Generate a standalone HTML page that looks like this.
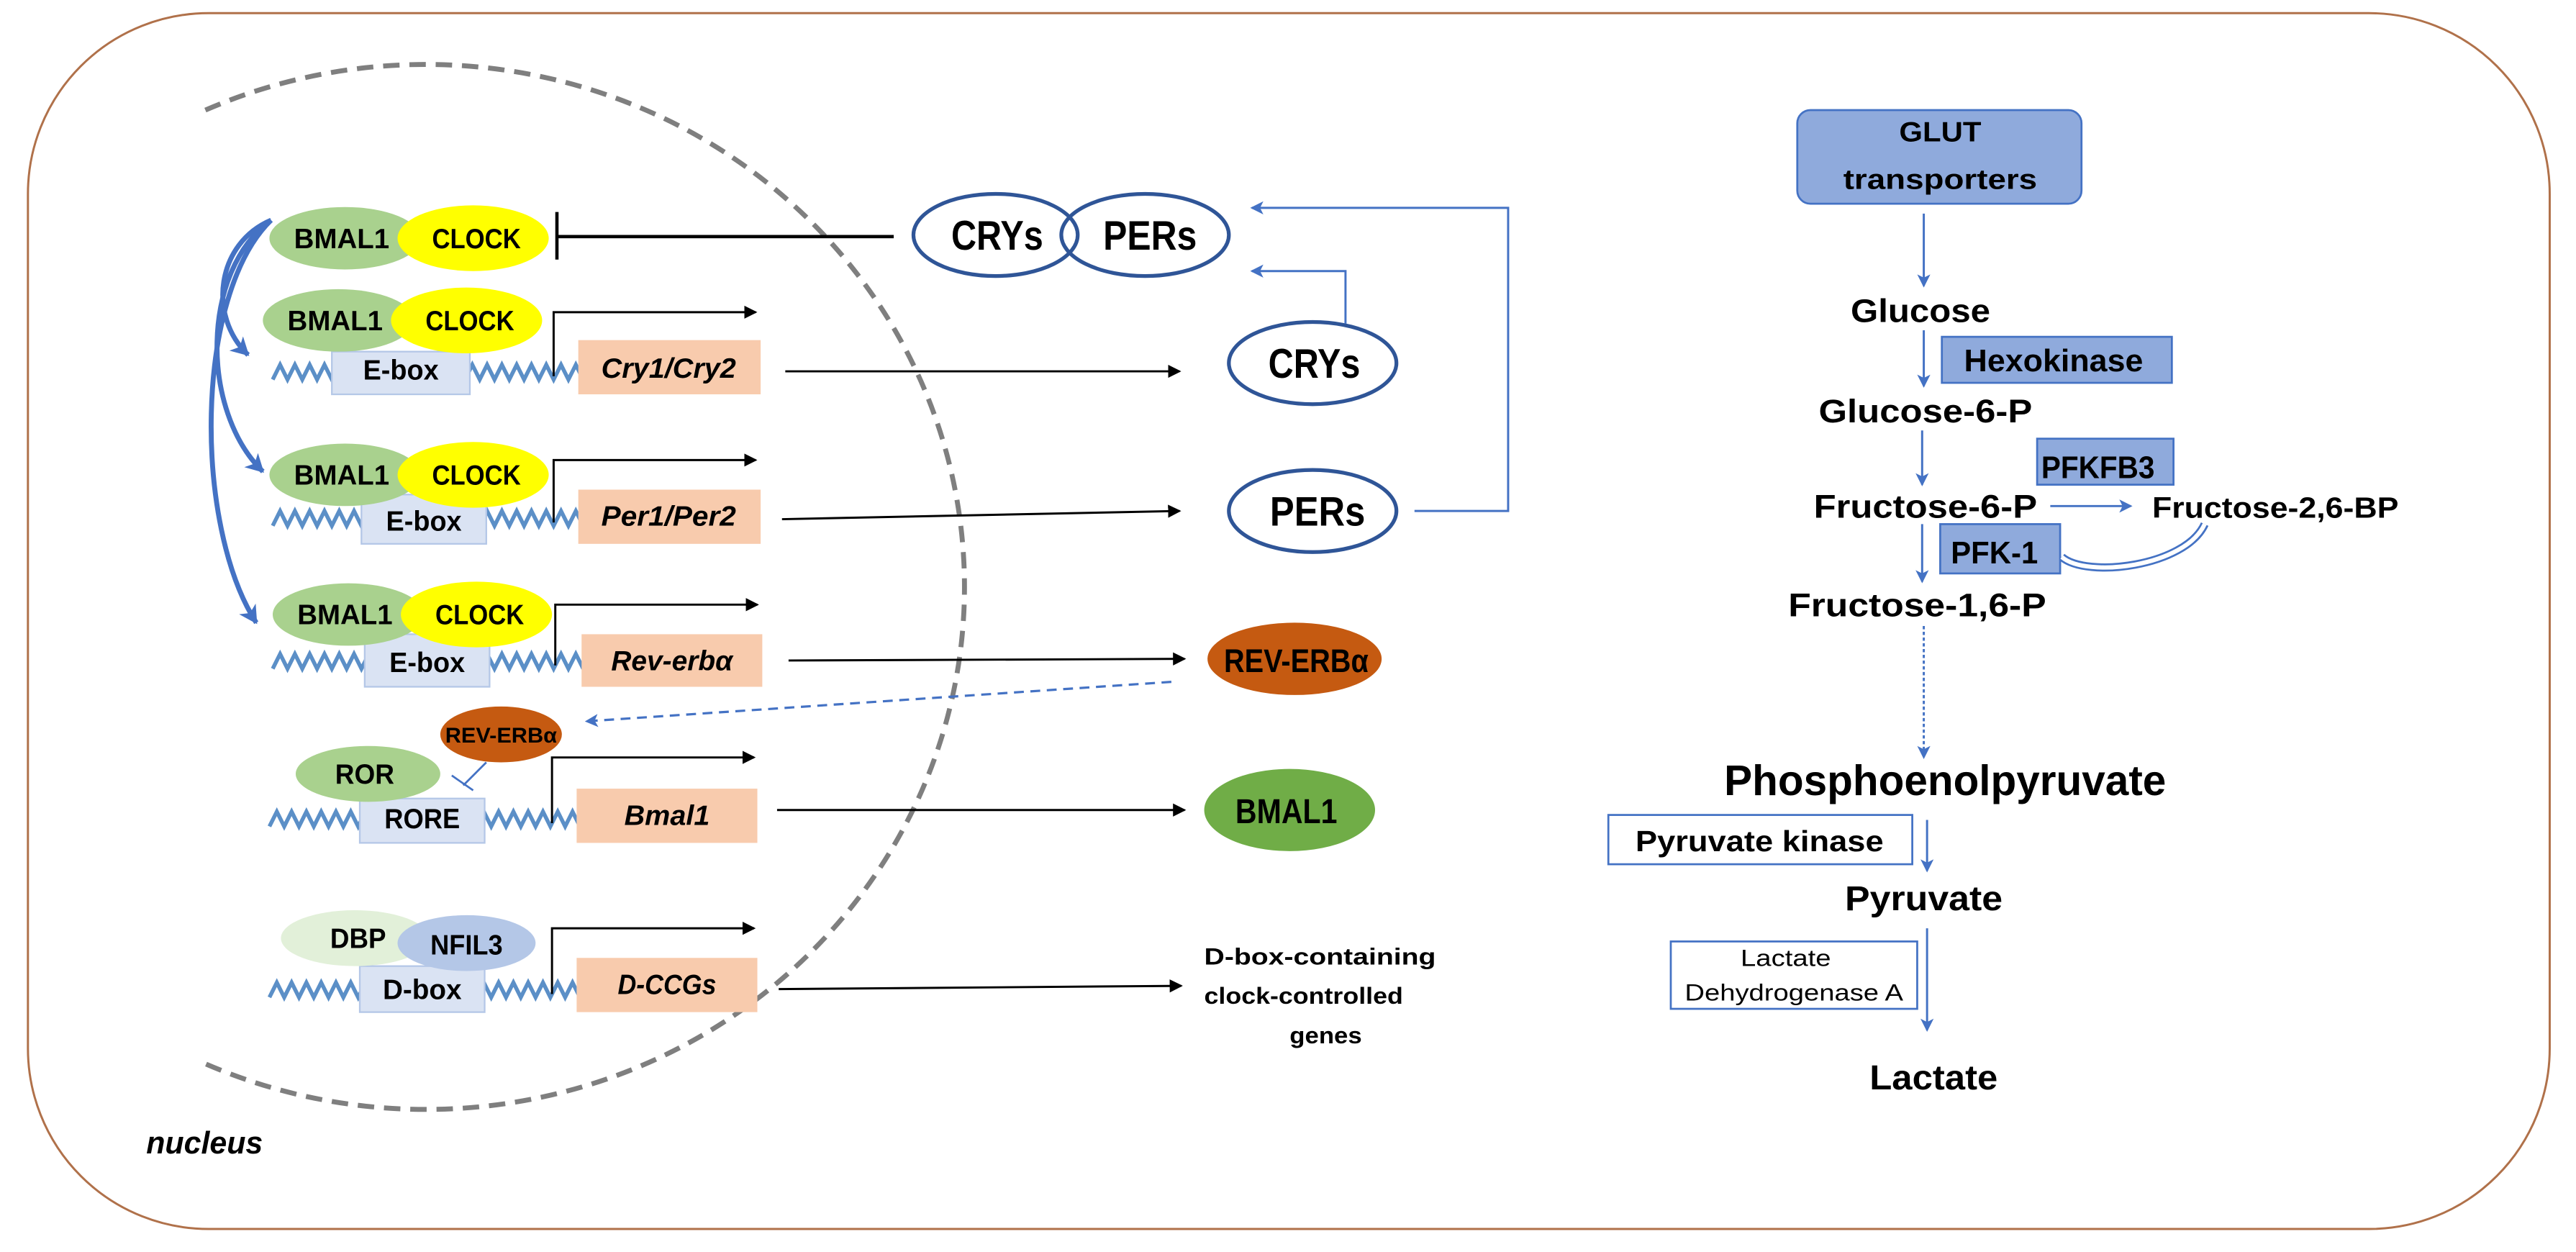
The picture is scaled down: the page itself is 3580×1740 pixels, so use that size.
<!DOCTYPE html>
<html><head><meta charset="utf-8"><style>
html,body{margin:0;padding:0;background:#fff;}
svg{display:block;}
text{font-family:"Liberation Sans",sans-serif;font-weight:bold;fill:#000;}
</style></head><body>
<svg width="3580" height="1740" viewBox="0 0 1568 762" preserveAspectRatio="none" xmlns="http://www.w3.org/2000/svg">
<defs>
<marker id="ab" markerWidth="8" markerHeight="8" refX="7" refY="4" orient="auto" markerUnits="userSpaceOnUse"><path d="M0,0 L8,4 L0,8 Z" fill="#000"/></marker>
<marker id="abl" markerWidth="8" markerHeight="8" refX="7" refY="4" orient="auto" markerUnits="userSpaceOnUse"><path d="M0,0 L8,4 L0,8 L2,4 Z" fill="#4472c4"/></marker>
<marker id="abc" markerWidth="12" markerHeight="12" refX="10" refY="6" orient="auto" markerUnits="userSpaceOnUse"><path d="M0,0 L11,6 L0,12 L3,6 Z" fill="#4472c4"/></marker>
<path id="wave" d="M0,0 l4.5,-9 l4.5,9 l4.5,-9 l4.5,9 l4.5,-9 l4.5,9 l4.5,-9 l4.5,9 l4.5,-9 l4.5,9 l4.5,-9 l4.5,9 l4.5,-9 l4.5,9 l4.5,-9 l4.5,9 l4.5,-9 l4.5,9 l4.5,-9 l4.5,9 l4.5,-9 l4.5,9 l4.5,-9 l4.5,9 l4.5,-9 l4.5,9 l4.5,-9 l4.5,9 l4.5,-9 l4.5,9 l4.5,-9 l4.5,9 l4.5,-9 l4.5,9 l4.5,-9 l4.5,9 l4.5,-9 l4.5,9 l4.5,-9 l4.5,9 l4.5,-9 l4.5,9" fill="none" stroke="#5b8fc7" stroke-width="2.4"/>
</defs>

<rect x="17" y="8" width="1535" height="740" rx="110" ry="110" fill="none" stroke="#b0714a" stroke-width="1.3"/>

<path d="M125,67 A328,318 0 1 1 124,647" fill="none" stroke="#7f7f7f" stroke-width="3" stroke-dasharray="10,6"/>
<text x="89" y="702" font-size="19" font-style="italic" textLength="71" lengthAdjust="spacingAndGlyphs">nucleus</text>

<g fill="none" stroke="#4472c4" stroke-width="3">
<path d="M165,134 C132,148 126,192 151,216" marker-end="url(#abc)"/>
<path d="M165,134 C122,165 122,250 160,287" marker-end="url(#abc)"/>
<path d="M165,134 C118,180 118,320 156,379" marker-end="url(#abc)"/>
</g>

<use href="#wave" x="166" y="231"/>
<use href="#wave" x="166" y="320"/>
<use href="#wave" x="166" y="407"/>
<use href="#wave" x="164" y="503"/>
<use href="#wave" x="164" y="607"/>

<g fill="#dae3f3" stroke="#b4c7e7" stroke-width="1">
<rect x="202" y="214" width="84" height="26"/>
<rect x="220" y="301" width="76" height="30"/>
<rect x="222" y="386" width="76" height="32"/>
<rect x="219" y="486" width="76" height="27"/>
<rect x="219" y="588" width="76" height="28"/>
</g>
<g fill="#f8cbad">
<rect x="352" y="207" width="111" height="33"/>
<rect x="352" y="298" width="111" height="33"/>
<rect x="354" y="386" width="110" height="32"/>
<rect x="351" y="480" width="110" height="33"/>
<rect x="351" y="583" width="110" height="33"/>
</g>
<g font-size="17">
<text x="244" y="231" text-anchor="middle" textLength="46" lengthAdjust="spacingAndGlyphs">E-box</text>
<text x="258" y="323" text-anchor="middle" textLength="46" lengthAdjust="spacingAndGlyphs">E-box</text>
<text x="260" y="409" text-anchor="middle" textLength="46" lengthAdjust="spacingAndGlyphs">E-box</text>
<text x="257" y="504" text-anchor="middle" textLength="46" lengthAdjust="spacingAndGlyphs">RORE</text>
<text x="257" y="608" text-anchor="middle" textLength="48" lengthAdjust="spacingAndGlyphs">D-box</text>
</g>
<g font-size="17" font-style="italic">
<text x="407" y="230" text-anchor="middle" textLength="82" lengthAdjust="spacingAndGlyphs">Cry1/Cry2</text>
<text x="407" y="320" text-anchor="middle" textLength="82" lengthAdjust="spacingAndGlyphs">Per1/Per2</text>
<text x="409" y="408" text-anchor="middle" textLength="74" lengthAdjust="spacingAndGlyphs">Rev-erbα</text>
<text x="406" y="502" text-anchor="middle" textLength="52" lengthAdjust="spacingAndGlyphs">Bmal1</text>
<text x="406" y="605" text-anchor="middle" textLength="60" lengthAdjust="spacingAndGlyphs">D-CCGs</text>
</g>

<g fill="none" stroke="#000" stroke-width="1.3">
<path d="M337,229 V190 H460" marker-end="url(#ab)"/>
<path d="M337,318 V280 H460" marker-end="url(#ab)"/>
<path d="M338,405 V368 H461" marker-end="url(#ab)"/>
<path d="M336,501 V461 H459" marker-end="url(#ab)"/>
<path d="M336,605 V565 H459" marker-end="url(#ab)"/>
<path d="M478,226 H718" marker-end="url(#ab)"/>
<path d="M476,316 L718,311" marker-end="url(#ab)"/>
<path d="M480,402 L721,401" marker-end="url(#ab)"/>
<path d="M473,493 H721" marker-end="url(#ab)"/>
<path d="M474,602 L719,600" marker-end="url(#ab)"/>
</g>

<line x1="339" y1="144" x2="544" y2="144" stroke="#000" stroke-width="2"/>
<line x1="339" y1="129" x2="339" y2="158" stroke="#000" stroke-width="2"/>

<g>
<ellipse cx="210" cy="145" rx="46" ry="19" fill="#a9d18e"/>
<ellipse cx="288" cy="145" rx="46" ry="20" fill="#ffff00"/>
<ellipse cx="206" cy="195" rx="46" ry="19" fill="#a9d18e"/>
<ellipse cx="284" cy="195" rx="46" ry="20" fill="#ffff00"/>
<ellipse cx="210" cy="289" rx="46" ry="19" fill="#a9d18e"/>
<ellipse cx="288" cy="289" rx="46" ry="20" fill="#ffff00"/>
<ellipse cx="212" cy="374" rx="46" ry="19" fill="#a9d18e"/>
<ellipse cx="290" cy="374" rx="46" ry="20" fill="#ffff00"/>
</g>
<g font-size="17">
<text x="208" y="151" text-anchor="middle" textLength="58" lengthAdjust="spacingAndGlyphs">BMAL1</text>
<text x="290" y="151" text-anchor="middle" textLength="54" lengthAdjust="spacingAndGlyphs">CLOCK</text>
<text x="204" y="201" text-anchor="middle" textLength="58" lengthAdjust="spacingAndGlyphs">BMAL1</text>
<text x="286" y="201" text-anchor="middle" textLength="54" lengthAdjust="spacingAndGlyphs">CLOCK</text>
<text x="208" y="295" text-anchor="middle" textLength="58" lengthAdjust="spacingAndGlyphs">BMAL1</text>
<text x="290" y="295" text-anchor="middle" textLength="54" lengthAdjust="spacingAndGlyphs">CLOCK</text>
<text x="210" y="380" text-anchor="middle" textLength="58" lengthAdjust="spacingAndGlyphs">BMAL1</text>
<text x="292" y="380" text-anchor="middle" textLength="54" lengthAdjust="spacingAndGlyphs">CLOCK</text>
</g>

<ellipse cx="224" cy="471" rx="44" ry="17" fill="#a9d18e"/>
<text x="222" y="477" font-size="17" text-anchor="middle" textLength="36" lengthAdjust="spacingAndGlyphs">ROR</text>
<ellipse cx="305" cy="447" rx="37" ry="17" fill="#c55a11"/>
<text x="305" y="452" font-size="13" text-anchor="middle" textLength="68" lengthAdjust="spacingAndGlyphs">REV-ERBα</text>
<line x1="296" y1="464" x2="282" y2="478" stroke="#4472c4" stroke-width="1.2"/>
<line x1="275" y1="472" x2="288" y2="481" stroke="#4472c4" stroke-width="1.2"/>

<ellipse cx="216" cy="571" rx="45" ry="17" fill="#e2f0d9"/>
<ellipse cx="284" cy="574" rx="42" ry="17" fill="#b4c7e7"/>
<text x="218" y="577" font-size="17" text-anchor="middle" textLength="34" lengthAdjust="spacingAndGlyphs">DBP</text>
<text x="284" y="581" font-size="17" text-anchor="middle" textLength="44" lengthAdjust="spacingAndGlyphs">NFIL3</text>

<line x1="713" y1="415" x2="357" y2="439" stroke="#4472c4" stroke-width="1.4" stroke-dasharray="6,4" marker-end="url(#abl)"/>

<ellipse cx="606" cy="143" rx="50" ry="25" fill="none" stroke="#2f5597" stroke-width="2.3"/>
<ellipse cx="697" cy="143" rx="51" ry="25" fill="none" stroke="#2f5597" stroke-width="2.3"/>
<text x="607" y="152" font-size="25" text-anchor="middle" textLength="56" lengthAdjust="spacingAndGlyphs">CRYs</text>
<text x="700" y="152" font-size="25" text-anchor="middle" textLength="57" lengthAdjust="spacingAndGlyphs">PERs</text>

<ellipse cx="799" cy="221" rx="51" ry="25" fill="#fff" stroke="#2f5597" stroke-width="2.3"/>
<text x="800" y="230" font-size="25" text-anchor="middle" textLength="56" lengthAdjust="spacingAndGlyphs">CRYs</text>
<ellipse cx="799" cy="311" rx="51" ry="25" fill="#fff" stroke="#2f5597" stroke-width="2.3"/>
<text x="802" y="320" font-size="25" text-anchor="middle" textLength="58" lengthAdjust="spacingAndGlyphs">PERs</text>

<ellipse cx="788" cy="401" rx="53" ry="22" fill="#c55a11"/>
<text x="789" y="409" font-size="20" text-anchor="middle" textLength="88" lengthAdjust="spacingAndGlyphs">REV-ERBα</text>
<ellipse cx="785" cy="493" rx="52" ry="25" fill="#70ad47"/>
<text x="783" y="501" font-size="21" text-anchor="middle" textLength="62" lengthAdjust="spacingAndGlyphs">BMAL1</text>

<g fill="none" stroke="#4472c4" stroke-width="1.3">
<path d="M861,311 H918 V126.5 H762" marker-end="url(#abl)"/>
<path d="M819,197 V165 H762" marker-end="url(#abl)"/>
</g>

<g font-size="14">
<text x="733" y="587" textLength="141" lengthAdjust="spacingAndGlyphs">D-box-containing</text>
<text x="733" y="611" textLength="121" lengthAdjust="spacingAndGlyphs">clock-controlled</text>
<text x="807" y="635" text-anchor="middle" textLength="44" lengthAdjust="spacingAndGlyphs">genes</text>
</g>

<rect x="1094" y="67" width="173" height="57" rx="8" fill="#8faadc" stroke="#4472c4" stroke-width="1.2"/>
<text x="1181" y="86" font-size="17" text-anchor="middle" textLength="50" lengthAdjust="spacingAndGlyphs">GLUT</text>
<text x="1181" y="115" font-size="17" text-anchor="middle" textLength="118" lengthAdjust="spacingAndGlyphs">transporters</text>

<rect x="1182" y="205" width="140" height="28" fill="#8faadc" stroke="#4472c4" stroke-width="1.2"/>
<rect x="1240" y="267" width="83" height="28" fill="#8faadc" stroke="#4472c4" stroke-width="1.2"/>
<rect x="1181" y="319" width="73" height="30" fill="#8faadc" stroke="#4472c4" stroke-width="1.2"/>
<rect x="979" y="496" width="185" height="30" fill="#fff" stroke="#4472c4" stroke-width="1.2"/>
<rect x="1017" y="573" width="150" height="41" fill="#fff" stroke="#4472c4" stroke-width="1.2"/>

<g fill="none" stroke="#4472c4" stroke-width="1.3">
<line x1="1171" y1="130" x2="1171" y2="174" marker-end="url(#abl)"/>
<line x1="1171" y1="201" x2="1171" y2="235" marker-end="url(#abl)"/>
<line x1="1170" y1="262" x2="1170" y2="295" marker-end="url(#abl)"/>
<line x1="1170" y1="319" x2="1170" y2="354" marker-end="url(#abl)"/>
<line x1="1248" y1="308" x2="1297" y2="308" marker-end="url(#abl)"/>
<line x1="1171" y1="381" x2="1171" y2="461" stroke-dasharray="2,1.5" marker-end="url(#abl)"/>
<line x1="1173" y1="499" x2="1173" y2="530" marker-end="url(#abl)"/>
<line x1="1173" y1="565" x2="1173" y2="627" marker-end="url(#abl)"/>
</g>
<path d="M1255,339 C1270,352 1330,345 1342,319" fill="none" stroke="#4472c4" stroke-width="5"/>
<path d="M1255,339 C1270,352 1330,345 1342,319" fill="none" stroke="#fff" stroke-width="2.6"/>

<text x="1169" y="196" font-size="20" text-anchor="middle" textLength="85" lengthAdjust="spacingAndGlyphs">Glucose</text>
<text x="1250" y="226" font-size="19" text-anchor="middle" textLength="109" lengthAdjust="spacingAndGlyphs">Hexokinase</text>
<text x="1172" y="257" font-size="20" text-anchor="middle" textLength="130" lengthAdjust="spacingAndGlyphs">Glucose-6-P</text>
<text x="1277" y="291" font-size="19" text-anchor="middle" textLength="69" lengthAdjust="spacingAndGlyphs">PFKFB3</text>
<text x="1172" y="315" font-size="20" text-anchor="middle" textLength="136" lengthAdjust="spacingAndGlyphs">Fructose-6-P</text>
<text x="1310" y="315" font-size="18" textLength="150" lengthAdjust="spacingAndGlyphs">Fructose-2,6-BP</text>
<text x="1214" y="343" font-size="19" text-anchor="middle" textLength="53" lengthAdjust="spacingAndGlyphs">PFK-1</text>
<text x="1167" y="375" font-size="20" text-anchor="middle" textLength="157" lengthAdjust="spacingAndGlyphs">Fructose-1,6-P</text>
<text x="1184" y="484" font-size="26" text-anchor="middle" textLength="269" lengthAdjust="spacingAndGlyphs">Phosphoenolpyruvate</text>
<text x="1071" y="518" font-size="18" text-anchor="middle" textLength="151" lengthAdjust="spacingAndGlyphs">Pyruvate kinase</text>
<text x="1171" y="554" font-size="21" text-anchor="middle" textLength="96" lengthAdjust="spacingAndGlyphs">Pyruvate</text>
<text x="1087" y="588" font-size="14" text-anchor="middle" textLength="55" lengthAdjust="spacingAndGlyphs" style="font-weight:normal">Lactate</text>
<text x="1092" y="609" font-size="14" text-anchor="middle" textLength="133" lengthAdjust="spacingAndGlyphs" style="font-weight:normal">Dehydrogenase A</text>
<text x="1177" y="663" font-size="21" text-anchor="middle" textLength="78" lengthAdjust="spacingAndGlyphs">Lactate</text>
</svg>
</body></html>
